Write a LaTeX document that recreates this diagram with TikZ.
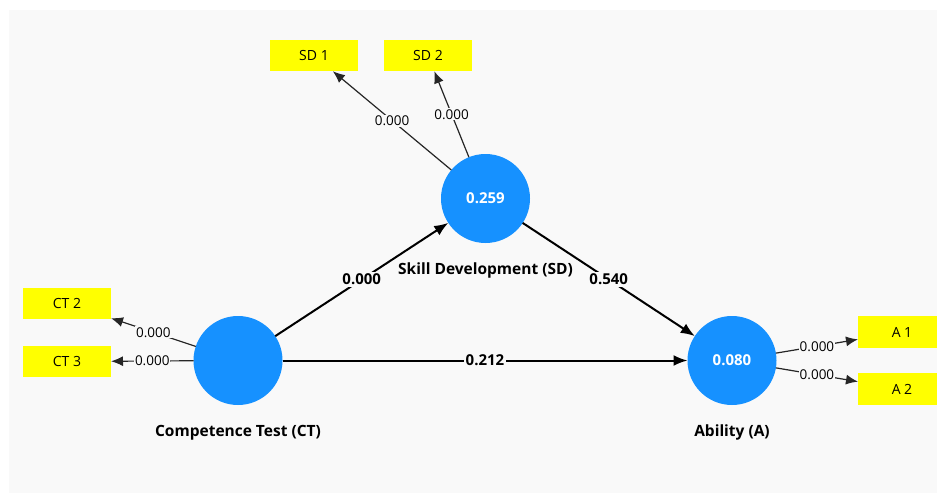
\documentclass[tikz,border=0pt]{standalone}
\usepackage{fontspec}
\setmainfont{Open Sans}
\usepackage{tkz-berge, tkz-graph}
\usetikzlibrary{arrows.meta,positioning}
\definecolor{latentblue}{RGB}{22,145,255}
\definecolor{itemyellow}{RGB}{255,255,0}
\definecolor{panelgrey}{RGB}{249,249,249}
\newcommand{\pathfont}{\fontsize{15}{17}\selectfont\bfseries}
\newcommand{\loadfont}{\fontsize{13.5}{16}\selectfont}

\begin{document}
\begin{tikzpicture}[x=1pt,y=-1pt]
        \useasboundingbox (0,0) rectangle (937,493);
        \fill[panelgrey] (9,10) rectangle (937,493);
        %\GraphInit[vstyle=Classic]
        %\SetVertexNoLabel
        \begin{scope}
            \tikzset{VertexStyle/.style = {shape = circle, fill = latentblue, draw = none, minimum size = 89pt, inner sep=0pt, text=white, font=\pathfont}}
            \Vertex[x=485.5,y=198.5,L={0.259}]{SD}
            \Vertex[x=238,y=360.5,L={\mbox{}}]{CT}
            \Vertex[x=732,y=360.5,L={0.080}]{A}
        \end{scope}
        \begin{scope}
            \tikzset{VertexStyle/.style = {shape = rectangle, fill = itemyellow, draw = none, minimum width = 88pt, minimum height = 31.5pt, inner sep=0pt, font=\fontsize{14}{16}\selectfont}}
            \Vertex[x=314,y=55.5,L={SD 1}]{SDone}
            \Vertex[x=428,y=55.5,L={SD 2}]{SDtwo}
            \Vertex[x=67,y=303.5,L={CT 2}]{CTtwo}
            \Vertex[x=67,y=361.5,L={CT 3}]{CTthree}
            \Vertex[x=902,y=332,L={A 1}]{Aone}
            \Vertex[x=902,y=389,L={A 2}]{Atwo}
        \end{scope}
        % names under the constructs
        \tikzset{NameStyle/.style = {inner sep=0pt, font=\fontsize{15.5}{18}\selectfont\bfseries}}
        \node[NameStyle, below=20pt of SD] (SDname) {Skill Development (SD)};
        \node[NameStyle, below=20pt of CT] (CTname) {Competence Test (CT)};
        \node[NameStyle, below=20pt of A] (Aname) {Ability (A)};
        % inner model
        \begin{scope}
            \tikzset{EdgeStyle/.style = {-{Latex[length=14pt,width=11pt]}, line width=2pt, black}}
            \tikzset{LabelStyle/.style = {fill=panelgrey, inner sep=1.5pt, font=\pathfont}}
            \Edge[label={0.000}](CT)(SD)
            \Edge[label={0.540}](SD)(A)
            \Edge[label={0.212}](CT)(A)
        \end{scope}
        % outer model
        \begin{scope}
            \tikzset{EdgeStyle/.style = {-{Latex[length=12pt,width=10pt]}, line width=1.2pt, black!85}}
            \tikzset{LabelStyle/.style = {fill=panelgrey, inner sep=1pt, font=\loadfont}}
            \Edge[label={0.000}](SD)(SDone)
            \Edge[label={0.000}](SD)(SDtwo)
            \Edge[label={0.000}](CT)(CTtwo)
            \Edge[label={0.000}](CT)(CTthree)
            \Edge[label={0.000}](A)(Aone)
            \Edge[label={0.000}](A)(Atwo)
        \end{scope}
    \end{tikzpicture}
\end{document}
